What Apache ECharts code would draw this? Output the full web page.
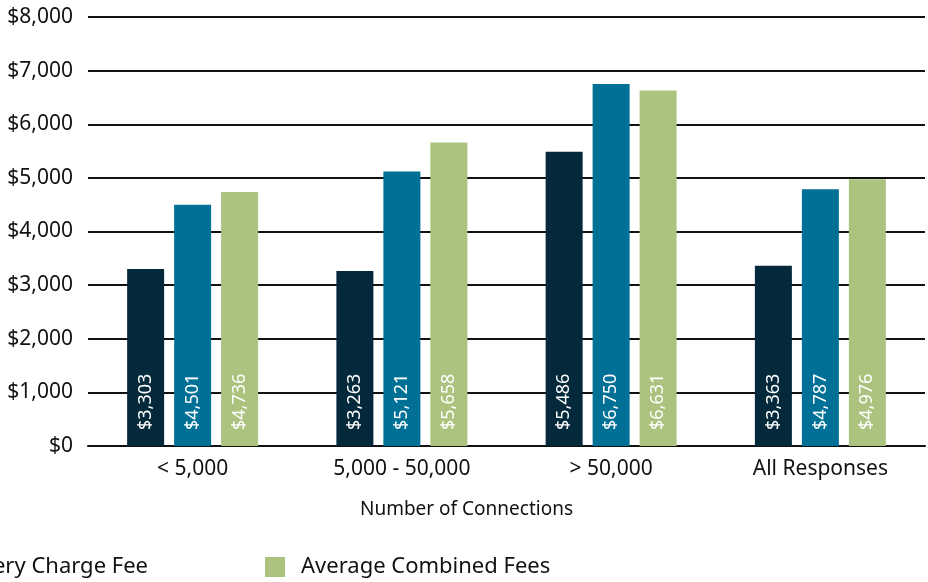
<!DOCTYPE html>
<html>
<head>
<meta charset="utf-8">
<script src="https://cdn.jsdelivr.net/npm/echarts@6/dist/echarts.min.js"></script>
<style>
  html, body { margin: 0; padding: 0; background: #fff; }
  #chart { width: 928px; height: 582px; }
</style>
</head>
<body>
<div id="chart"></div>
<script>
// Categories and series values
const categories = ["< 5,000", "5,000 - 50,000", "> 50,000", "All Responses"];
const seriesNames = ["Average Connection Fee", "Average Recovery Charge Fee", "Average Combined Fees"];
const connectionFee = [3303, 3263, 5486, 3363];
const recoveryFee = [4501, 5121, 6750, 4787];
const combinedFees = [4736, 5658, 6631, 4976];
const colors = ["#03293a", "#007096", "#abc37e"];

const font = "Noto Sans";
const chart = echarts.init(document.getElementById("chart"));

const money = v => "$" + v.toLocaleString("en-US");

function barSeries(name, values, color) {
  return {
    name: name,
    type: "bar",
    data: values,
    barWidth: 37,
    barGap: "27%",
    itemStyle: { color: color },
    label: {
      show: true,
      position: "insideBottom",
      rotate: 90,
      align: "left",
      verticalAlign: "middle",
      distance: 16,
      color: "#fff",
      fontFamily: font,
      fontSize: 18,
      formatter: p => money(p.value)
    }
  };
}

const legendText = { fontFamily: font, fontSize: 22, color: "#111", padding: [0, 0, 0, 11] };

chart.setOption({
  backgroundColor: "#fff",
  animation: false,
  color: colors,
  grid: { left: 88, right: 3, top: 17, bottom: 136, containLabel: false },
  legend: [
    {
      // only the tail of this item is visible in the cropped picture
      data: [seriesNames[1]],
      right: 780,
      top: 556,
      padding: 0,
      icon: "rect",
      itemWidth: 20,
      itemHeight: 20,
      textStyle: legendText
    },
    {
      data: [seriesNames[2]],
      left: 265,
      top: 556,
      padding: 0,
      icon: "rect",
      itemWidth: 20,
      itemHeight: 20,
      textStyle: legendText
    }
  ],
  xAxis: {
    type: "category",
    data: categories,
    name: "Number of Connections",
    nameLocation: "middle",
    nameGap: 54,
    nameTextStyle: { fontFamily: font, fontSize: 19, color: "#111", padding: [0, 80, 0, 0] },
    axisLine: { lineStyle: { color: "#111", width: 2 } },
    axisTick: { show: false },
    axisLabel: { fontFamily: font, fontSize: 21, color: "#111", margin: 13 }
  },
  yAxis: {
    type: "value",
    min: 0,
    max: 8000,
    interval: 1000,
    axisLine: { show: false },
    axisTick: { show: false },
    splitLine: { lineStyle: { color: "#111", width: 2 } },
    axisLabel: { fontFamily: font, fontSize: 21, color: "#111", margin: 15, formatter: money }
  },
  series: [
    barSeries(seriesNames[0], connectionFee, colors[0]),
    barSeries(seriesNames[1], recoveryFee, colors[1]),
    barSeries(seriesNames[2], combinedFees, colors[2])
  ]
});
</script>
</body>
</html>
